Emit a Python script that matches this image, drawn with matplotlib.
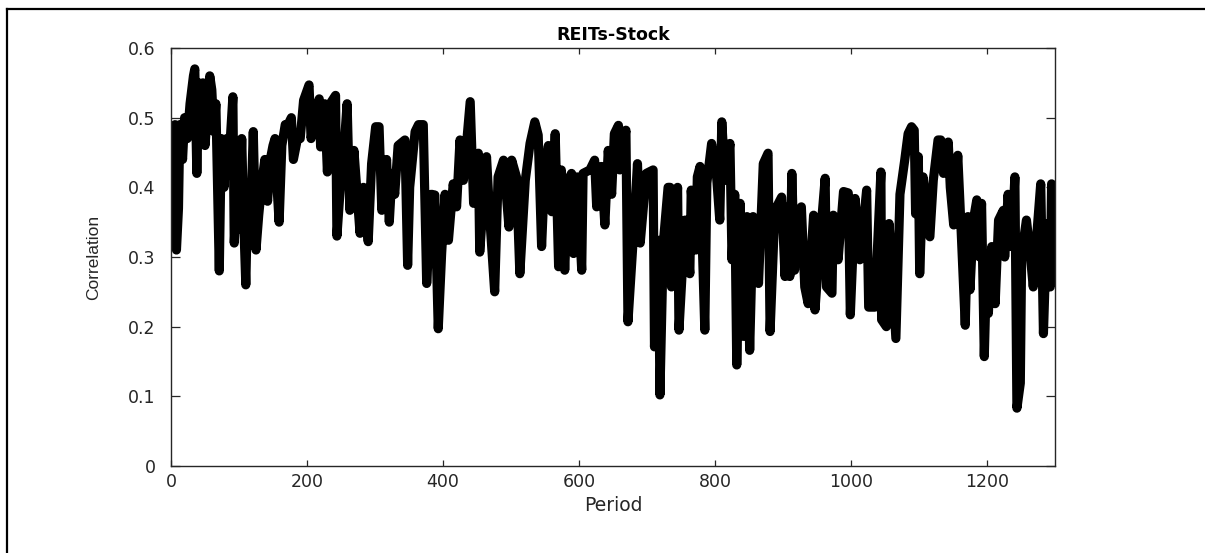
import matplotlib
matplotlib.use("Agg")
import matplotlib.pyplot as plt
from matplotlib.lines import Line2D

title = "REITs-Stock"
x_label = "Period"
y_label = "Correlation"
x_ticks = [0, 200, 400, 600, 800, 1000, 1200]
y_ticks = [0, 0.1, 0.2, 0.3, 0.4, 0.5, 0.6]
y_tick_labels = ["0", "0.1", "0.2", "0.3", "0.4", "0.5", "0.6"]

periods = [
    0, 3, 6, 8, 11, 13, 17, 20, 24, 28, 33, 35, 38, 41, 45, 47, 50, 53, 57, 60,
    63, 66, 71, 74, 78, 82, 86, 91, 93, 97, 100, 104, 107, 110, 113, 117, 121, 125, 129, 134,
    138, 142, 146, 150, 153, 156, 159, 163, 168, 172, 177, 180, 186, 190, 195, 203, 206, 212, 218, 220,
    226, 230, 234, 242, 244, 249, 254, 259, 263, 269, 273, 278, 283, 290, 295, 301, 306, 310, 317, 321,
    325, 329, 334, 344, 348, 351, 359, 364, 371, 376, 383, 388, 393, 398, 403, 408, 415, 420, 425, 430,
    440, 445, 452, 454, 464, 469, 476, 481, 489, 497, 501, 508, 513, 521, 528, 535, 540, 545, 550, 555,
    560, 565, 570, 574, 579, 584, 589, 592, 597, 604, 606, 616, 623, 626, 633, 638, 643, 648, 652, 658,
    660, 669, 672, 680, 686, 690, 699, 709, 711, 717, 719, 724, 731, 734, 736, 745, 747, 756, 763, 765,
    772, 774, 778, 785, 788, 795, 802, 807, 810, 815, 822, 825, 829, 832, 837, 842, 847, 851, 856, 864,
    871, 878, 881, 888, 898, 903, 908, 910, 913, 917, 920, 927, 932, 937, 945, 947, 955, 962, 964, 972,
    974, 981, 989, 996, 999, 1006, 1013, 1023, 1026, 1035, 1044, 1045, 1052, 1056, 1066, 1072, 1079, 1084, 1089, 1093,
    1095, 1099, 1101, 1106, 1111, 1116, 1121, 1128, 1132, 1136, 1143, 1146, 1151, 1157, 1160, 1168, 1172, 1175, 1180, 1185,
    1189, 1192, 1196, 1200, 1202, 1207, 1212, 1217, 1224, 1226, 1231, 1236, 1241, 1244, 1249, 1251, 1258, 1263, 1268, 1273,
    1279, 1283, 1288, 1293, 1295, 1300,
]

correlation = [
    0.32, 0.45, 0.49, 0.31, 0.37, 0.49, 0.44, 0.50, 0.47, 0.52, 0.56, 0.57, 0.42, 0.55, 0.52, 0.55, 0.46, 0.50, 0.56, 0.54,
    0.48, 0.52, 0.28, 0.47, 0.40, 0.47, 0.45, 0.53, 0.32, 0.40, 0.34, 0.47, 0.35, 0.26, 0.40, 0.35, 0.48, 0.31, 0.36, 0.41,
    0.44, 0.38, 0.44, 0.46, 0.47, 0.40, 0.35, 0.46, 0.49, 0.49, 0.50, 0.44, 0.47, 0.47, 0.525, 0.547, 0.47, 0.51, 0.527, 0.458,
    0.52, 0.422, 0.52, 0.532, 0.33, 0.40, 0.45, 0.52, 0.367, 0.453, 0.40, 0.334, 0.40, 0.322, 0.434, 0.487, 0.487, 0.367, 0.44, 0.35,
    0.42, 0.39, 0.46, 0.468, 0.288, 0.40, 0.48, 0.49, 0.49, 0.262, 0.39, 0.389, 0.197, 0.305, 0.39, 0.324, 0.405, 0.372, 0.468, 0.41,
    0.523, 0.377, 0.449, 0.307, 0.444, 0.353, 0.25, 0.415, 0.439, 0.343, 0.439, 0.415, 0.276, 0.41, 0.463, 0.494, 0.475, 0.315, 0.43, 0.46,
    0.365, 0.477, 0.286, 0.425, 0.281, 0.41, 0.42, 0.305, 0.415, 0.281, 0.42, 0.425, 0.439, 0.372, 0.43, 0.346, 0.453, 0.39, 0.477, 0.489,
    0.425, 0.482, 0.207, 0.33, 0.434, 0.32, 0.42, 0.425, 0.171, 0.324, 0.102, 0.32, 0.40, 0.40, 0.257, 0.40, 0.195, 0.353, 0.276, 0.396,
    0.31, 0.415, 0.43, 0.195, 0.406, 0.463, 0.42, 0.353, 0.494, 0.41, 0.463, 0.296, 0.39, 0.145, 0.377, 0.186, 0.358, 0.166, 0.358, 0.262,
    0.434, 0.449, 0.193, 0.367, 0.386, 0.272, 0.372, 0.272, 0.42, 0.281, 0.35, 0.372, 0.257, 0.233, 0.36, 0.224, 0.33, 0.413, 0.257, 0.248,
    0.36, 0.296, 0.394, 0.392, 0.217, 0.384, 0.296, 0.396, 0.228, 0.228, 0.422, 0.21, 0.20, 0.348, 0.183, 0.39, 0.439, 0.477, 0.487, 0.482,
    0.362, 0.444, 0.276, 0.415, 0.372, 0.329, 0.41, 0.468, 0.468, 0.42, 0.465, 0.40, 0.346, 0.446, 0.382, 0.202, 0.358, 0.253, 0.353, 0.382,
    0.30, 0.377, 0.157, 0.305, 0.219, 0.315, 0.233, 0.353, 0.367, 0.30, 0.39, 0.315, 0.415, 0.083, 0.119, 0.305, 0.353, 0.31, 0.257, 0.329,
    0.405, 0.19, 0.348, 0.257, 0.405, 0.362,
]

W, H = 1205, 553
fig = plt.figure(figsize=(W / 100, H / 100), dpi=100)
fig.patch.set_facecolor("white")

# outer frame (top and left only)
fig.add_artist(Line2D([7.5 / W, 1.0], [1 - 8.5 / H, 1 - 8.5 / H], color="black", lw=1.6,
                      transform=fig.transFigure))
fig.add_artist(Line2D([7.5 / W, 7.5 / W], [0.0, 1 - 8.5 / H], color="black", lw=1.6,
                      transform=fig.transFigure))

ax_l, ax_r, ax_t, ax_b = 171, 1055, 48, 466
ax = fig.add_axes([ax_l / W, 1 - ax_b / H, (ax_r - ax_l) / W, (ax_b - ax_t) / H])
ax.plot(periods, correlation, color="black", lw=6.6,
        solid_joinstyle="round", solid_capstyle="round")

ax.set_xlim(0, 1300)
ax.set_ylim(0, 0.6)
ax.set_xticks(x_ticks)
ax.set_yticks(y_ticks)
ax.set_yticklabels(y_tick_labels)

axcol = "#262626"
font = ["DejaVu Sans"]
for s in ax.spines.values():
    s.set_color(axcol)
    s.set_linewidth(1.0)
ax.tick_params(axis="both", direction="in", top=True, right=True, colors=axcol,
               labelsize=12.5, width=0.9)
ax.tick_params(axis="x", length=4.5, pad=5)
ax.tick_params(axis="y", length=6.5, pad=11)
for lab in ax.get_xticklabels() + ax.get_yticklabels():
    lab.set_family(font)
    lab.set_color(axcol)

ax.set_title(title, fontsize=12.5, fontweight="bold", family=font, color="black", pad=6)
ax.set_xlabel(x_label, fontsize=13.5, family=font, color=axcol)
ax.set_ylabel(y_label, fontsize=12.5, family=["Liberation Sans", "DejaVu Sans"], color=axcol)
ax.xaxis.set_label_coords(0.5, (ax_b - 496) / (ax_b - ax_t))
ax.yaxis.set_label_coords((101 - ax_l) / (ax_r - ax_l), 0.5)

fig.savefig("out.png", dpi=100, facecolor="white")
